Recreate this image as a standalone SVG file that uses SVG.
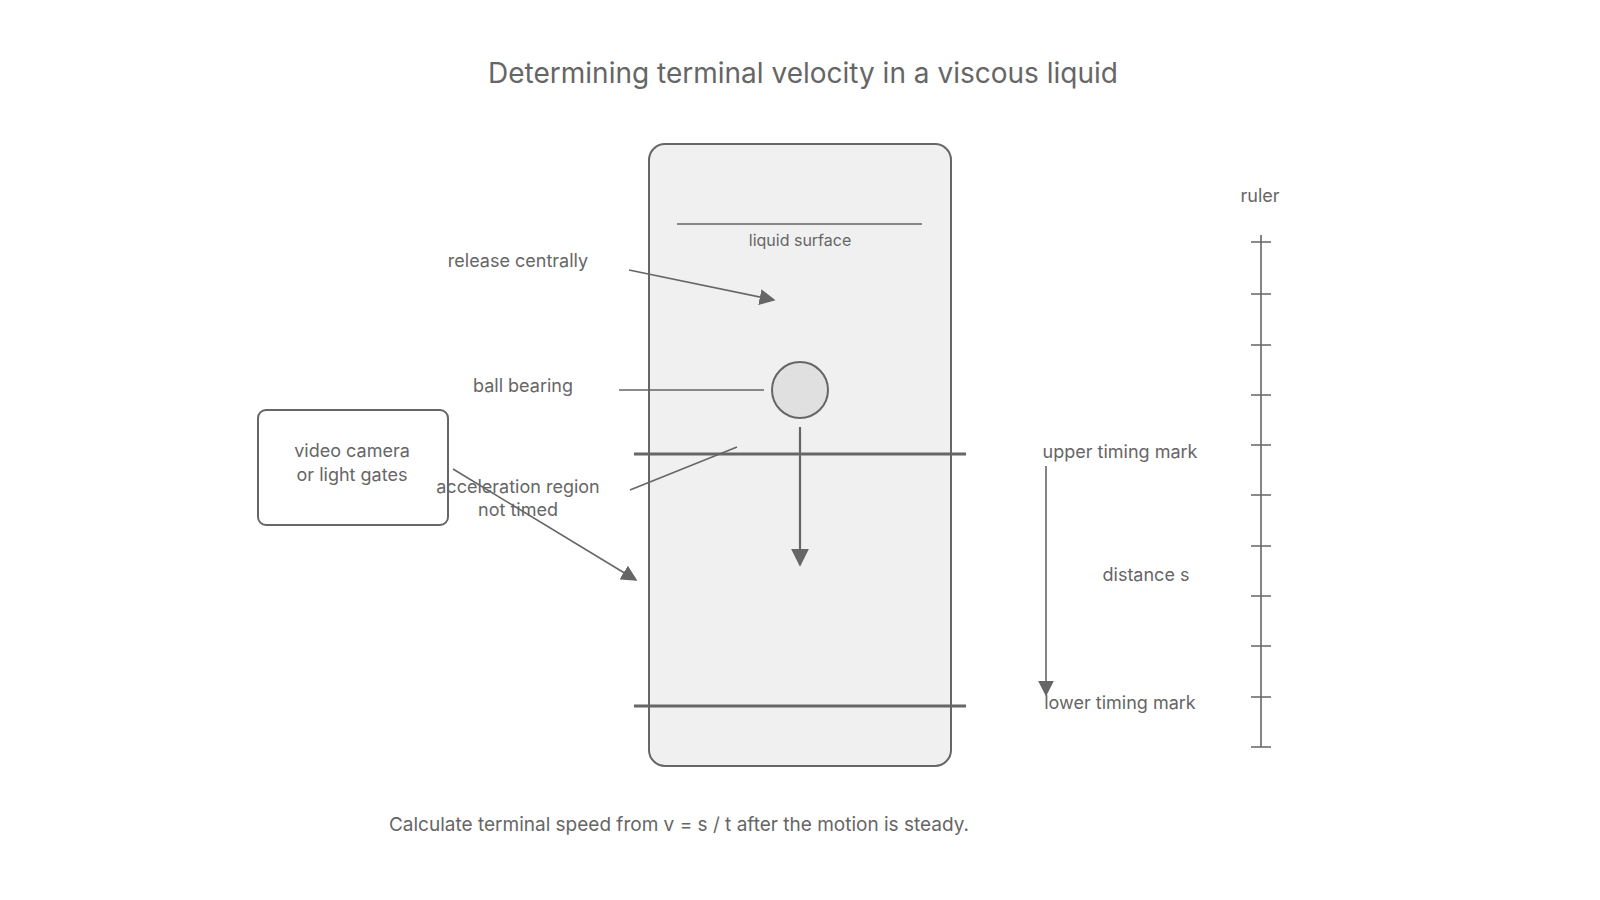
<svg xmlns="http://www.w3.org/2000/svg" width="1600" height="900" viewBox="0 0 1600 900">
<defs>
<style>
text{font-family:Inter,"Liberation Sans",sans-serif;fill:#666;text-anchor:middle}
.l{stroke:#666;stroke-width:1.6;fill:none}
.t{stroke:#666;stroke-width:3;fill:none}
.lb{font-size:18px}
</style>
<marker id="b" viewBox="0 0 10 10" refX="9" refY="5" markerWidth="16" markerHeight="16" markerUnits="userSpaceOnUse" orient="auto"><path d="M0,0L10,5L0,10z" fill="#666"/></marker>
<marker id="c" viewBox="0 0 10 10" refX="9" refY="5" markerWidth="18" markerHeight="18" markerUnits="userSpaceOnUse" orient="auto"><path d="M0,0L10,5L0,10z" fill="#666"/></marker>
</defs>
<rect width="1600" height="900" fill="#fff"/>
<g transform="translate(-4,-2)">
<text x="807" y="85" font-size="28">Determining terminal velocity in a viscous liquid</text>
<g id="tank"><rect x="653" y="146" width="302" height="622" rx="16" fill="#f0f0f0" stroke="#666" stroke-width="2"/></g>
<g id="surface"><line class="l" x1="681" y1="226" x2="926" y2="226"/><text x="804" y="248" font-size="16">liquid surface</text></g>
<g id="ball"><circle cx="804" cy="392" r="28" fill="#e0e0e0" stroke="#666" stroke-width="2"/></g>
<g id="upper"><line class="t" x1="638" y1="456" x2="970" y2="456"/><text class="lb" x="1124" y="460">upper timing mark</text></g>
<g id="lower"><line class="t" x1="638" y1="708" x2="970" y2="708"/><text class="lb" x="1124" y="711">lower timing mark</text></g>
<g id="camera"><rect x="262" y="412" width="190" height="115" rx="8" fill="#fff" stroke="#666" stroke-width="2"/><text class="lb" x="356" y="459">video camera</text><text class="lb" x="356" y="483">or light gates</text></g>
<g id="labels">
<text class="lb" x="522" y="269">release centrally</text>
<text class="lb" x="527" y="394">ball bearing</text>
<text class="lb" x="522" y="495">acceleration region</text>
<text class="lb" x="522" y="518">not timed</text>
<text class="lb" x="1150" y="583">distance s</text>
<text class="lb" x="1264" y="204">ruler</text>
<text x="683" y="833" font-size="19">Calculate terminal speed from v = s / t after the motion is steady.</text>
</g>
<g id="ruler" transform="translate(-2,0)">
<line class="l" x1="1267" y1="237" x2="1267" y2="749"/>
<path class="l" d="M1257 244h20M1257 296h20M1257 347h20M1257 397h20M1257 447h20M1257 497h20M1257 548h20M1257 598h20M1257 648h20M1257 699h20M1257 749h20"/>
</g>
<g id="connectors">
<line class="l" x1="633" y1="272" x2="778" y2="302" marker-end="url(#b)"/>
<line class="l" x1="623" y1="392" x2="768" y2="392"/>
<line class="l" x1="634" y1="492" x2="741" y2="449"/>
<line class="l" x1="457" y1="471" x2="640" y2="582" marker-end="url(#b)"/>
<line class="l" x1="804" y1="429" x2="804" y2="567" marker-end="url(#c)" style="stroke-width:2.2"/>
<line class="l" x1="1050" y1="468" x2="1050" y2="697" marker-end="url(#b)"/>
</g>
</g>
</svg>
